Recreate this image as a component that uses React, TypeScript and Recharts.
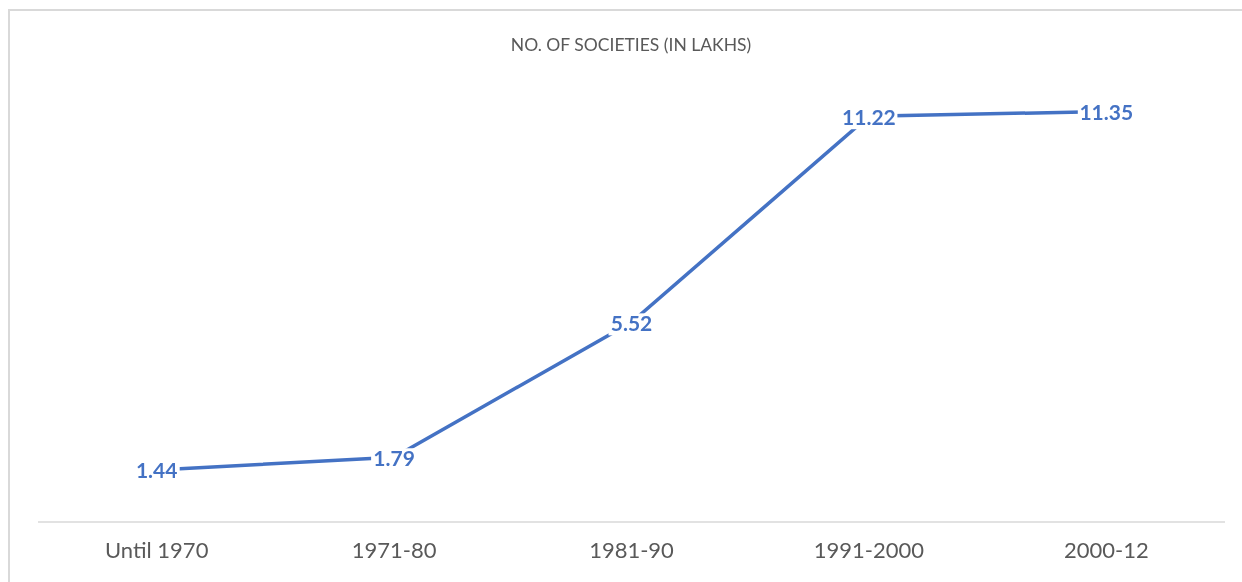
import React from "react";
import { LineChart, Line, XAxis, YAxis, LabelList } from "recharts";

const categories = ["Until 1970", "1971-80", "1981-90", "1991-2000", "2000-12"];
const societies = [1.44, 1.79, 5.52, 11.22, 11.35];
const title = "NO. OF SOCIETIES (IN LAKHS)";

const data = categories.map((c, i) => ({ name: c, value: societies[i] }));

const BLUE = "#4472C4";

const renderLabel = (props: any) => {
  const { x, y, value } = props;
  const s = Number(value).toFixed(2);
  const w = s.length * 11 + 2;
  const h = 22;
  return (
    <g>
      <rect x={x - w / 2} y={y - h / 2 + 2} width={w} height={h} fill="#ffffff" />
      <text
        x={x}
        y={y + 3}
        textAnchor="middle"
        dominantBaseline="middle"
        fill={BLUE}
        fontFamily="Lato, 'Open Sans', sans-serif"
        fontWeight={700}
        fontSize={21}
      >
        {s}
      </text>
    </g>
  );
};

export default function App() {
  return (
    <div style={{ position: "fixed", left: 8, top: 8, width: 1234, height: 574, overflow: "hidden" }}>
      <div
        style={{
          position: "absolute",
          left: 0,
          top: 1,
          width: 1240,
          height: 580,
          borderLeft: "2px solid #d9d9d9",
          borderTop: "2px solid #d9d9d9",
          boxSizing: "border-box",
        }}
      />
      <div
        style={{
          position: "absolute",
          left: 0,
          top: 26,
          width: 1226,
          paddingLeft: 20,
          boxSizing: "border-box",
          textAlign: "center",
          fontFamily: "Lato, 'Open Sans', sans-serif",
          fontSize: 17.5,
          color: "#595959",
        }}
      >
        {title}
      </div>
      <LineChart
        width={1234}
        height={566}
        data={data}
        margin={{ top: 80, right: 17, bottom: 0, left: 30 }}
        style={{ position: "absolute", left: 0, top: 0 }}
      >
        <XAxis
          dataKey="name"
          axisLine={{ stroke: "#d9d9d9", strokeWidth: 1.5 }}
          tickLine={false}
          height={52}
          tickMargin={14}
          padding={{ left: 118.7, right: 118.7 }}
          tick={{ fill: "#595959", fontSize: 22, fontFamily: "Lato, 'Open Sans', sans-serif" }}
        />
        <YAxis hide domain={[0, 12]} />
        <Line
          type="linear"
          dataKey="value"
          stroke={BLUE}
          strokeWidth={3.5}
          dot={false}
          activeDot={false}
          isAnimationActive={false}
        >
          <LabelList dataKey="value" content={renderLabel} />
        </Line>
      </LineChart>
    </div>
  );
}
